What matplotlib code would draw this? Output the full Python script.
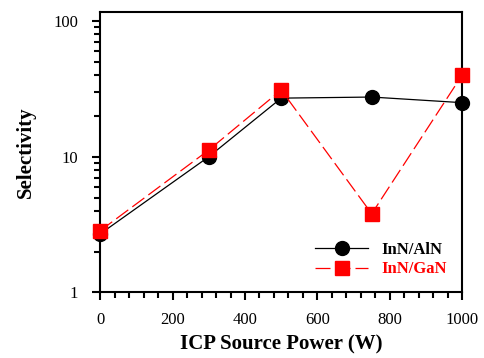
import matplotlib.pyplot as plt
from matplotlib.ticker import MultipleLocator, LogLocator, NullFormatter, FixedLocator

# Data
power = [0, 300, 500, 750, 1000]
sel_aln = [2.7, 10, 27, 27.5, 25]
sel_gan = [2.85, 11.2, 31, 3.8, 40]

plt.rcParams['font.family'] = ['Liberation Serif', 'DejaVu Serif']

fig = plt.figure(figsize=(4.84, 3.58), dpi=100)
ax = fig.add_axes([0.207, 0.183, 0.748, 0.783])

ax.plot(power, sel_aln, color='black', lw=0.9, marker='o', ms=10,
        label='InN/AlN', clip_on=False, zorder=3)
ax.plot(power, sel_gan, color='red', lw=0.9, ls=(0, (12, 4)), marker='s', ms=10,
        label='InN/GaN', clip_on=False, zorder=4)

ax.set_yscale('log')
ax.set_xlim(0, 1000)
ax.set_ylim(1, 116)
ax.xaxis.set_major_locator(MultipleLocator(200))
ax.xaxis.set_minor_locator(MultipleLocator(40))
ax.yaxis.set_major_locator(FixedLocator([1, 10, 100]))
ax.yaxis.set_minor_locator(LogLocator(base=10, subs=range(2, 10)))
ax.yaxis.set_minor_formatter(NullFormatter())
ax.set_yticklabels(['1', '10', '100'])

for s in ax.spines.values():
    s.set_linewidth(1.5)
ax.tick_params(which='major', direction='out', length=6, width=1.5, labelsize=12)
ax.tick_params(which='minor', direction='out', length=4, width=1.5)
ax.tick_params(axis='y', pad=10)
ax.tick_params(axis='x', pad=8)

ax.set_xlabel('ICP Source Power (W)', fontsize=15, fontweight='bold', labelpad=5)
ax.set_ylabel('Selectivity', fontsize=15, fontweight='bold', labelpad=12)

leg = ax.legend(loc='lower right', bbox_to_anchor=(1.0, 0.0), frameon=False,
                handlelength=3.2, labelspacing=0.2, borderpad=0.4,
                prop={'weight': 'bold', 'size': 12})
for txt, c in zip(leg.get_texts(), ['black', 'red']):
    txt.set_color(c)

plt.savefig('out.png', dpi=100)
